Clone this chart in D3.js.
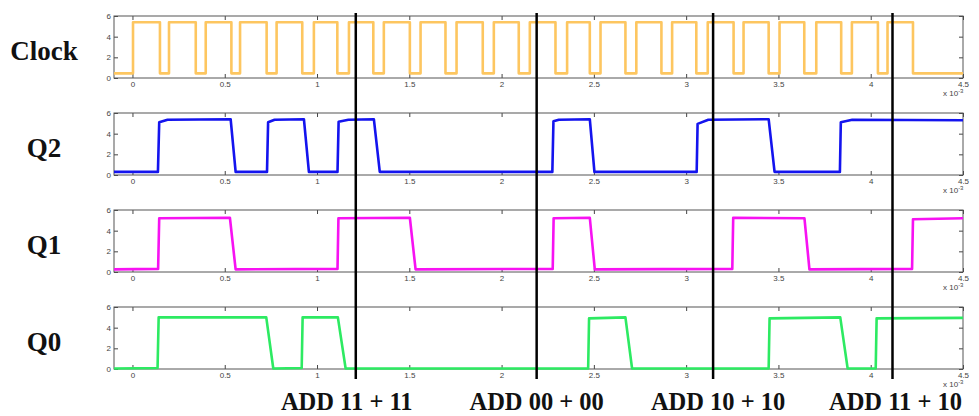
<!DOCTYPE html>
<html>
<head>
<meta charset="utf-8">
<script src="https://cdn.jsdelivr.net/npm/d3@7"></script>
<style>
  body { margin: 0; background: #fff; }
  .tick text { font-family: "Liberation Sans", Arial, sans-serif; font-size: 8px; fill: #444; }
  .tick line { stroke: #444; }
  .sig-label, .add-label { font-family: "Liberation Serif", "Times New Roman", serif; font-weight: bold; fill: #111; }
</style>
</head>
<body>
<svg id="chart"></svg>
<script>
// signal names (top to bottom)
const signals = ["Clock", "Q2", "Q1", "Q0"];

// clock edges, time in ms (x 10^-3 s)
const clockRise = [0.003, 0.198, 0.397, 0.583, 0.781, 0.983, 1.173, 1.362, 1.561, 1.756, 1.958,
                   2.153, 2.355, 2.536, 2.730, 2.924, 3.117, 3.311, 3.506, 3.705, 3.898, 4.091];
const clockFall = [0.149, 0.343, 0.536, 0.727, 0.920, 1.110, 1.305, 1.503, 1.696, 1.898, 2.093,
                   2.292, 2.478, 2.671, 2.866, 3.055, 3.257, 3.447, 3.640, 3.840, 4.039, 4.229];
const clockLevels = [0.45, 5.4];

// counter outputs, [time ms, volts]
const q2 = [[-0.1, 0.3], [0.138, 0.3], [0.145, 5.1], [0.19, 5.35], [0.532, 5.4], [0.559, 0.3],
            [0.729, 0.3], [0.735, 5.1], [0.77, 5.35], [0.929, 5.4], [0.956, 0.3],
            [1.111, 0.3], [1.117, 5.15], [1.17, 5.35], [1.308, 5.4], [1.34, 0.3],
            [2.275, 0.3], [2.281, 5.2], [2.31, 5.35], [2.478, 5.4], [2.503, 0.3],
            [3.057, 0.3], [3.062, 4.95], [3.12, 5.35], [3.447, 5.4], [3.479, 0.3],
            [3.833, 0.3], [3.838, 5.1], [3.9, 5.35], [4.5, 5.3]];
const q1 = [[-0.1, 0.25], [0.139, 0.3], [0.145, 5.2], [0.528, 5.25], [0.559, 0.25],
            [1.111, 0.3], [1.116, 5.2], [1.503, 5.25], [1.534, 0.25],
            [2.277, 0.3], [2.282, 5.2], [2.478, 5.25], [2.505, 0.25],
            [3.25, 0.3], [3.255, 5.25], [3.641, 5.2], [3.668, 0.25],
            [4.224, 0.3], [4.229, 5.1], [4.5, 5.2]];
const q0 = [[-0.1, 0.05], [0.136, 0.1], [0.142, 5.0], [0.725, 5.0], [0.763, 0.05],
            [0.917, 0.1], [0.922, 5.0], [1.113, 5.0], [1.155, 0.05],
            [2.469, 0.05], [2.474, 4.9], [2.671, 5.0], [2.707, 0.05],
            [3.447, 0.05], [3.452, 4.9], [3.835, 5.0], [3.875, 0.05],
            [4.027, 0.05], [4.032, 4.9], [4.5, 4.95]];

// operation markers
const markerTimes = [1.21, 2.19, 3.146, 4.118];
const markerLabels = ["ADD 11 + 11", "ADD 00 + 00", "ADD 10 + 10", "ADD 11 + 10"];

const xTicks = [0, 0.5, 1, 1.5, 2, 2.5, 3, 3.5, 4, 4.5];
const xTickLabels = ["0", "0.5", "1", "1.5", "2", "2.5", "3", "3.5", "4", "4.5"];
const yTicks = [0, 2, 4, 6];
const yTickLabels = ["0", "2", "4", "6"];

const width = 979, height = 416;
const svg = d3.select("#chart").attr("width", width).attr("height", height);

const panelTop = [16, 113, 210, 307];
const panelH = 62;
const labelShift = [-9, 0, 5, 3];   // small nudges of the ADD captions

const x = d3.scaleLinear().domain([-0.1, 4.5]).range([114, 963]);

// build clock trace from its edges
const clock = [[-0.1, clockLevels[0]]];
clockRise.forEach((r, i) => {
    clock.push([r, clockLevels[0]], [r, clockLevels[1]]);
    clock.push([clockFall[i], clockLevels[1]], [clockFall[i], clockLevels[0]]);
});
clock.push([4.5, clockLevels[0]]);

const traces = [clock, q2, q1, q0];
const colors = ["#fdc660", "#1414ee", "#f712f2", "#2dea62"];

traces.forEach((trace, i) => {
    const top = panelTop[i];
    const y = d3.scaleLinear().domain([0, 6]).range([top + panelH, top]);
    const g = svg.append("g").attr("color", "#444");

    // x axis at bottom with inward ticks
    g.append("g")
        .attr("transform", `translate(0,${top + panelH})`)
        .call(d3.axisBottom(x).tickValues(xTicks).tickFormat((d, k) => xTickLabels[k])
            .tickSizeInner(-4).tickSizeOuter(0).tickPadding(3))
        .call(a => a.select(".domain").remove());
    g.append("g")
        .attr("transform", `translate(0,${top})`)
        .call(d3.axisTop(x).tickValues(xTicks).tickFormat("").tickSizeInner(-4).tickSizeOuter(0))
        .call(a => a.select(".domain").remove());

    g.append("g")
        .attr("transform", `translate(${x.range()[0]},0)`)
        .call(d3.axisLeft(y).tickValues(yTicks).tickFormat((d, k) => yTickLabels[k])
            .tickSizeInner(-4).tickSizeOuter(0).tickPadding(3))
        .call(a => a.select(".domain").remove());
    g.append("g")
        .attr("transform", `translate(${x.range()[1]},0)`)
        .call(d3.axisRight(y).tickValues(yTicks).tickFormat("").tickSizeInner(-4).tickSizeOuter(0))
        .call(a => a.select(".domain").remove());

    g.append("rect")
        .attr("x", x.range()[0]).attr("y", top)
        .attr("width", x.range()[1] - x.range()[0]).attr("height", panelH)
        .attr("fill", "none").attr("stroke", "#555").attr("stroke-width", 1);

    // exponent label
    const ex = g.append("text")
        .attr("x", x.range()[1] - 20).attr("y", top + panelH + 18)
        .attr("font-family", "Liberation Sans, Arial, sans-serif")
        .attr("font-size", 8).attr("fill", "#444")
        .text("x 10");
    ex.append("tspan").attr("dy", -3).attr("font-size", 6).text("-3");

    g.append("path")
        .datum(trace)
        .attr("fill", "none")
        .attr("stroke", colors[i])
        .attr("stroke-width", 2.6)
        .attr("stroke-linejoin", "round")
        .attr("d", d3.line().x(d => x(d[0])).y(d => y(d[1])));

    svg.append("text")
        .attr("class", "sig-label")
        .attr("x", 44).attr("y", top + 44)
        .attr("text-anchor", "middle")
        .attr("font-size", 27)
        .text(signals[i]);
});

// vertical markers for each addition
svg.append("g")
    .selectAll("line")
    .data(markerTimes)
    .enter().append("line")
    .attr("x1", d => x(d)).attr("x2", d => x(d))
    .attr("y1", 13).attr("y2", 379)
    .attr("stroke", "#000").attr("stroke-width", 2.5);

svg.append("g")
    .selectAll("text")
    .data(markerTimes)
    .enter().append("text")
    .attr("class", "add-label")
    .attr("x", (d, i) => x(d) + labelShift[i])
    .attr("y", 410)
    .attr("text-anchor", "middle")
    .attr("font-size", 24.5)
    .text((d, i) => markerLabels[i]);
</script>
</body>
</html>
